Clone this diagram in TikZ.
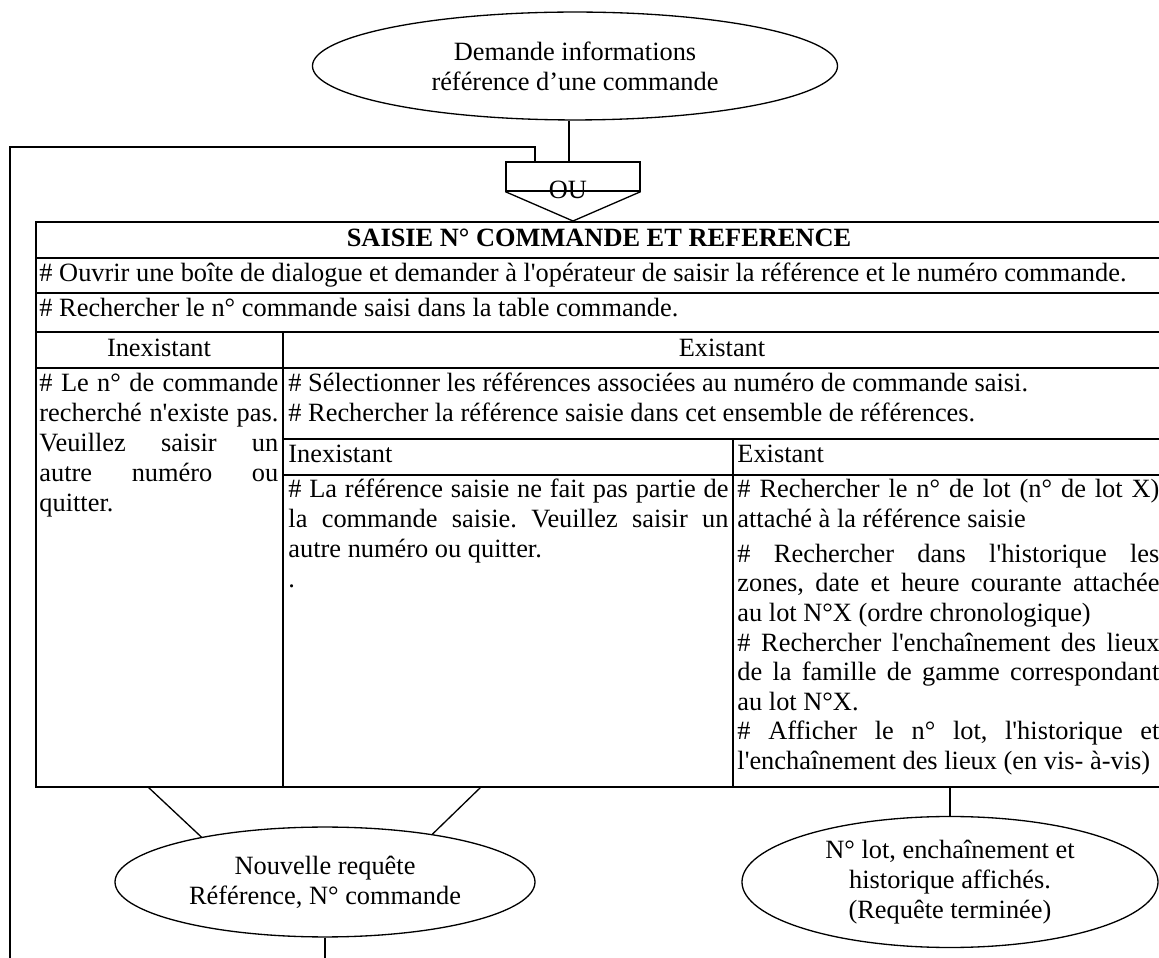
\documentclass[tikz,border=0pt]{standalone}
\usepackage{fontspec}
\setmainfont{Liberation Serif}[Ligatures=TeXOff]
\usetikzlibrary{shapes.geometric,positioning}

\begin{document}
\frenchspacing
\tolerance=9999
\hyphenpenalty=10000
\exhyphenpenalty=10000
\begin{tikzpicture}[
    x=0.455pt, y=-0.455pt,
    every node/.style={font=\fontsize{12}{13.65}\selectfont},
    bulle/.style={
        ellipse,
        draw,
        line width=0.6pt,
        inner sep=0pt,
        align=center
    },
    grille/.style={line width=0.75pt},
    lien/.style={line width=0.6pt},
    entete/.style={inner sep=0pt, anchor=base},
    ligne/.style={inner sep=0pt, anchor=base west},
    cellule/.style={inner sep=0pt, anchor=base west, align=justify}
]
    \useasboundingbox (0,0) rectangle (1159,958);

    % --- DEMANDE ---
    \node[bulle, minimum width=238.9pt, minimum height=49.1pt] (dem) at (575,66)
        {Demande informations\\référence d’une commande};

    % --- OU ---
    \node[draw, line width=0.6pt, minimum width=61pt, minimum height=13.2pt, inner sep=0pt] (ou) at (573,176.5) {};
    \node[inner sep=0pt] (outxt) at (568,190) {OU};
    \coordinate (pointe) at (573,221);
    \coordinate (entA) at (569,162);
    \coordinate (entB) at (535,162);
    \draw[lien] (ou.south west) -- (pointe) -- (ou.south east);
    \draw[lien] (entA |- dem.south) -- (entA);

    % --- BOUCLE ---
    \coordinate (bcl1) at (10,147);
    \coordinate (bcl2) at (10,962);
    \draw[lien] (bcl2) -- (bcl1) -- (bcl1 -| entB) -- (entB);

    % --- TABLEAU ---
    \coordinate (tno) at (36,222);
    \coordinate (tse) at (1164,787);
    \draw[grille] (tno) rectangle (tse);
    \foreach \yy in {258,293,332,368}
        \draw[grille] (36,\yy) -- (1164,\yy);
    \foreach \yy in {439,475}
        \draw[grille] (283,\yy) -- (1164,\yy);
    \draw[grille] (283,332) -- (283,787);
    \draw[grille] (733,439) -- (733,787);

    \node[entete, font={\fontsize{12}{13.65}\selectfont\bfseries}] (titre) at (599,247)
        {SAISIE N° COMMANDE ET REFERENCE};
    \node[ligne] (ouvrir) at (39,282)
        {\# Ouvrir une boîte de dialogue et demander à l'opérateur de saisir la référence et le numéro commande.};
    \node[ligne] (rechcmd) at (39,317)
        {\# Rechercher le n° commande saisi dans la table commande.};
    \node[entete] (inex) at (159,357) {Inexistant};
    \node[entete] (exis) at (722,357) {Existant};

    \node[cellule, text width=108.7pt] (cmdko) at (39,392)
        {\# Le n° de commande\linebreak recherché n'existe pas.\linebreak Veuillez saisir un\linebreak autre numéro ou\linebreak quitter.};
    \node[ligne, text width=396pt, align=flush left] (selref) at (288,392)
        {\# Sélectionner les références associées au numéro de commande saisi.\\
         \# Rechercher la référence saisie dans cet ensemble de références.};
    \node[ligne] (inex2) at (288,463) {Inexistant};
    \node[ligne] (exis2) at (737,463) {Existant};

    \node[cellule, text width=200.2pt] (refko) at (288,498)
        {\# La référence saisie ne fait pas partie de\linebreak la commande saisie. Veuillez saisir un\linebreak autre numéro ou quitter.\par .};
    \node[cellule, text width=192pt, font=\fontsize{12}{13.47}\selectfont] (refok) at (737,498)
        {\# Rechercher le n° de lot (n° de lot X)\linebreak attaché à la référence saisie\par
         \vspace{2.3pt}
         \# Rechercher dans l'historique les\linebreak zones, date et heure courante attachée\linebreak au lot N°X (ordre chronologique)\par
         \# Rechercher l'enchaînement des lieux\linebreak de la famille de gamme correspondant\linebreak au lot N°X.\par
         \# Afficher le n° lot, l'historique et\linebreak l'enchaînement des lieux (en vis- à-vis)};

    % --- SORTIES ---
    \node[bulle, minimum width=191.1pt, minimum height=50pt] (req) at (325,882)
        {Nouvelle requête\\Référence, N° commande};
    \node[bulle, minimum width=189.3pt, minimum height=59.6pt] (res) at (950,882)
        {N° lot, enchaînement et\\historique affichés.\\(Requête terminée)};

    \coordinate (dep1) at (148,787);
    \coordinate (dep2) at (481,787);
    \draw[lien] (dep1) -- (req.160);
    \draw[lien] (dep2) -- (req.24);
    \draw[lien] (res.north |- tse) -- (res.north);
    \draw[lien] (req.south) -- (req.south |- bcl2);
\end{tikzpicture}
\end{document}
